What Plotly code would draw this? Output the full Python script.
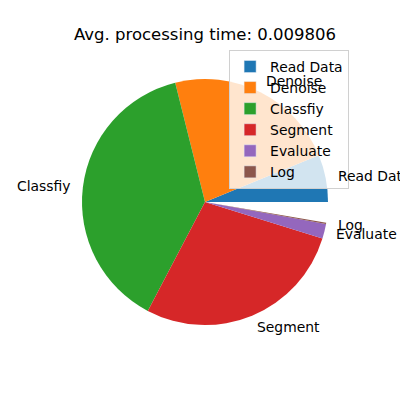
import math
import plotly.graph_objects as go

labels = ["Read Data", "Denoise", "Classfiy", "Segment", "Evaluate", "Log"]
values = [0.062, 0.227, 0.384, 0.279, 0.0195, 0.0015]
colors = ["#1f77b4", "#ff7f0e", "#2ca02c", "#d62728", "#9467bd", "#8c564b"]
title_text = "Avg. processing time: 0.009806"

# matplotlib draws a partial pie when the fractions sum to less than 1
remainder = max(0.0, 1.0 - sum(values))

# plotly places the first slice of a counterclockwise pie as if clockwise;
# shift so that the first slice starts at 3 o'clock going counterclockwise
rotation = 90 - values[0] * 360

fig = go.Figure()
fig.add_trace(go.Pie(
    labels=labels + ["_rest"],
    values=values + [remainder],
    marker=dict(colors=colors + ["rgba(0,0,0,0)"], line=dict(width=0)),
    sort=False,
    direction="counterclockwise",
    rotation=rotation,
    textinfo="none",
    hoverinfo="label+value",
    showlegend=False,
    domain=dict(x=[0, 1], y=[0, 1]),
))

# legend entries
for lab, col in zip(labels, colors):
    fig.add_trace(go.Bar(x=[None], y=[None], name=lab, marker_color=col, showlegend=True))

# outside labels at 1.1 r, matplotlib style
cum = 0.0
for lab, v in zip(labels, values):
    mid = (cum + v / 2) * 2 * math.pi
    cum += v
    cx, cy = math.cos(mid), math.sin(mid)
    fig.add_annotation(
        x=0.5 + 0.55 * cx, y=0.5 + 0.55 * cy, xref="paper", yref="paper",
        text=lab, showarrow=False,
        xanchor="left" if cx >= 0 else "right", yanchor="middle",
        xshift=-2 if cx >= 0 else 2,
        font=dict(family="DejaVu Sans", size=13.9, color="black"),
    )

fig.update_layout(
    width=400, height=400,
    margin=dict(l=82, r=72, t=79, b=75),
    paper_bgcolor="white", plot_bgcolor="white",
    xaxis=dict(visible=False), yaxis=dict(visible=False),
    title=dict(text=title_text, x=0.5, xref="paper", xanchor="center",
               y=1 - 34 / 400, yref="container", yanchor="middle",
               font=dict(family="DejaVu Sans", size=16.5, color="black")),
    legend=dict(x=0.598, y=1.118, xanchor="left", yanchor="top",
                bgcolor="rgba(255,255,255,0.8)", bordercolor="#d0d0d0", borderwidth=1,
                font=dict(family="DejaVu Sans", size=13.9, color="black"),
                itemclick=False, itemdoubleclick=False),
)

fig.write_html("out.html", config={"displayModeBar": False},
               post_script="document.body.style.margin='0';")
